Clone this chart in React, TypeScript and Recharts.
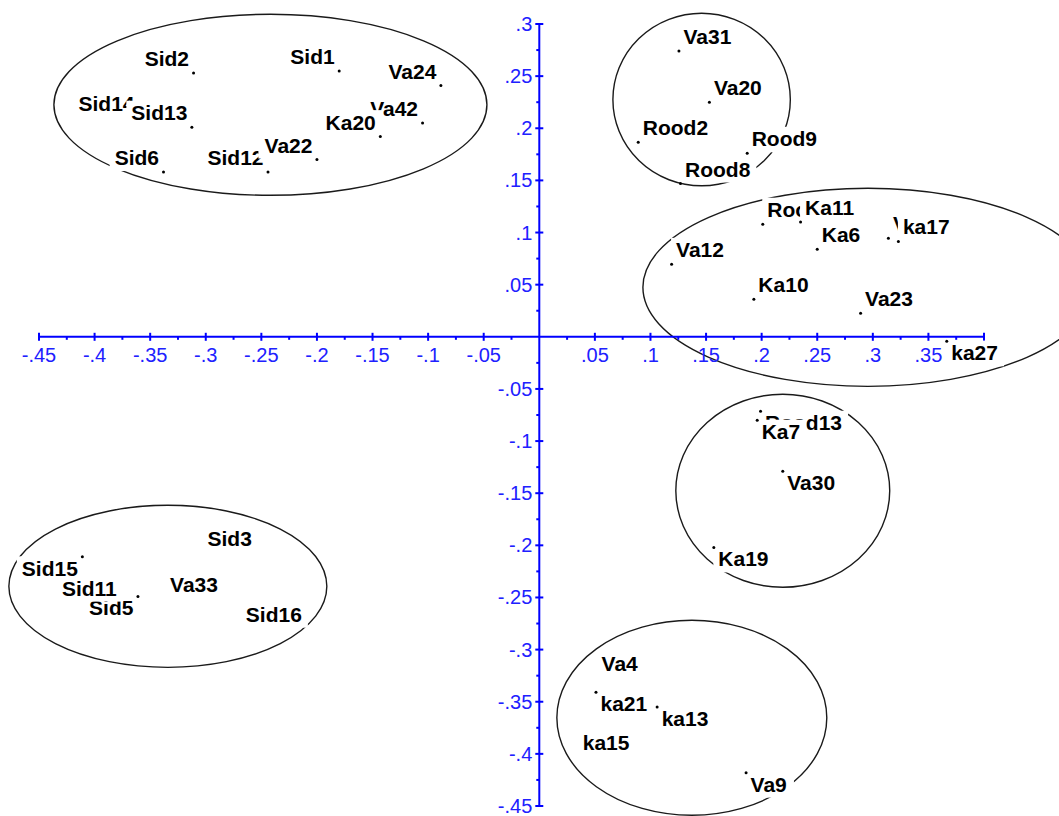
import { ScatterChart, Scatter, XAxis, YAxis, ReferenceLine, ReferenceArea } from "recharts";

// point labels, drawing order matters (later labels cover earlier ones)
const names = [
  "Sid14", "Sid13", "Sid2", "Sid1", "Va24", "Va42", "Ka20", "Sid12", "Va22", "Sid6",
  "Va31", "Va20", "Rood2", "Rood9", "Rood8", "Rood12", "Ka11", "Ka6", "Va18", "ka17", "Va12", "Ka10", "Va23",
  "ka27", "Rood13", "Ka7", "Va30", "Ka19",
  "Va4", "ka21", "ka13", "ka15", "Va9",
  "Sid15", "Sid5", "Sid11", "Sid3", "Va33", "Sid16",
];
const dim1 = [
  -0.36, -0.3125, -0.311, -0.18, -0.0885, -0.105, -0.143, -0.244, -0.2, -0.338,
  0.1256, 0.153, 0.089, 0.187, 0.127, 0.201, 0.235, 0.25, 0.314, 0.323, 0.119, 0.193, 0.289,
  0.3665, 0.199, 0.196, 0.219, 0.157,
  0.052, 0.051, 0.106, 0.035, 0.186,
  -0.411, -0.361, -0.376, -0.2545, -0.285, -0.2095,
];
const dim2 = [
  0.21, 0.201, 0.253, 0.255, 0.241, 0.205, 0.192, 0.158, 0.17, 0.158,
  0.274, 0.225, 0.1865, 0.176, 0.147, 0.108, 0.11, 0.084, 0.0945, 0.0915, 0.0695, 0.036, 0.0225,
  -0.0043, -0.0714, -0.08, -0.129, -0.202,
  -0.302, -0.341, -0.355, -0.378, -0.418,
  -0.211, -0.249, -0.23, -0.182, -0.227, -0.255,
];
// points whose marker does not show in the picture
const noMarker = ["Sid11", "Sid3", "Va33", "Sid16", "Va4", "ka15"];

const xTicks = [-0.45, -0.4, -0.35, -0.3, -0.25, -0.2, -0.15, -0.1, -0.05, 0.05, 0.1, 0.15, 0.2, 0.25, 0.3, 0.35, 0.4];
const xTickLabels = ["-.45", "-.4", "-.35", "-.3", "-.25", "-.2", "-.15", "-.1", "-.05", ".05", ".1", ".15", ".2", ".25", ".3", ".35", ""];
const xMinor = [-0.425, -0.375, -0.325, -0.275, -0.225, -0.175, -0.125, -0.075, -0.025, 0.025, 0.075, 0.125, 0.175, 0.225, 0.275, 0.325, 0.375];
const yTicks = [0.3, 0.25, 0.2, 0.15, 0.1, 0.05, -0.05, -0.1, -0.15, -0.2, -0.25, -0.3, -0.35, -0.4, -0.45];
const yTickLabels = [".3", ".25", ".2", ".15", ".1", ".05", "-.05", "-.1", "-.15", "-.2", "-.25", "-.3", "-.35", "-.4", "-.45"];
const yMinor = [0.275, 0.225, 0.175, 0.125, 0.075, 0.025, -0.025, -0.075, -0.125, -0.175, -0.225, -0.275, -0.325, -0.375, -0.425];

// cluster ellipses: [x1, x2, y1, y2]
const clusters: [number, number, number, number][] = [
  [-0.4366, -0.0471, 0.1357, 0.3093],
  [0.0662, 0.2258, 0.1448, 0.3103],
  [0.0932, 0.4979, -0.0475, 0.1424],
  [0.1228, 0.3152, -0.2402, -0.0551],
  [-0.4771, -0.1911, -0.317, -0.1616],
  [0.0158, 0.2586, -0.4589, -0.2719],
];

const points = names.map((name, i) => ({ name, x: dim1[i], y: dim2[i] }));
const xMajorData = xTicks.map((x, i) => ({ x, y: 0, label: xTickLabels[i] }));
const yMajorData = yTicks.map((y, i) => ({ x: 0, y, label: yTickLabels[i] }));
const xMinorData = xMinor.map((x) => ({ x, y: 0 }));
const yMinorData = yMinor.map((y) => ({ x: 0, y }));

const BLUE = "#0000ff";
const FONT = "'Liberation Sans', Arial, sans-serif";
const LABEL_SIZE = 21;

const BOLD_W: Record<string, number> = { S: 667, i: 278, d: 611, V: 667, a: 556, K: 722, k: 556, R: 722, o: 611 };
const textW = (s: string, size: number) =>
  s.split("").reduce((t, c) => t + (BOLD_W[c] ?? 556), 0) * size / 1000;

function PointMark(props: any) {
  const { cx, cy, payload } = props;
  const right = payload.x >= 0;
  const up = payload.y >= 0;
  const w = textW(payload.name, LABEL_SIZE);
  const tx = right ? cx + 4.5 : cx - 4.5;
  const base = up ? cy - 7 : cy + 19;
  const left = right ? tx : tx - w;
  return (
    <g>
      <rect x={left - 5} y={base - 19.5} width={w + 11} height={25.5} fill="#fff" />
      <text x={tx} y={base} textAnchor={right ? "start" : "end"} fontFamily={FONT}
        fontSize={LABEL_SIZE} fontWeight="bold" fill="#000">
        {payload.name}
      </text>
      {!noMarker.includes(payload.name) && <circle cx={cx} cy={cy} r={1.5} fill="#000" />}
    </g>
  );
}

function XMajorTick(props: any) {
  const { cx, cy, payload } = props;
  return (
    <g>
      <line x1={cx} y1={cy - 4} x2={cx} y2={cy + 4} stroke={BLUE} strokeWidth={2} />
      {payload.label && (
        <text x={cx} y={cy + 25} textAnchor="middle" fontFamily={FONT} fontSize={20} fill="#2020ff">
          {payload.label}
        </text>
      )}
    </g>
  );
}

function YMajorTick(props: any) {
  const { cx, cy, payload } = props;
  return (
    <g>
      <line x1={cx - 4} y1={cy} x2={cx + 4} y2={cy} stroke={BLUE} strokeWidth={2} />
      <text x={cx - 7} y={cy + 7} textAnchor="end" fontFamily={FONT} fontSize={20} fill="#2020ff">
        {payload.label}
      </text>
    </g>
  );
}

const XMinorTick = (p: any) => <line x1={p.cx} y1={p.cy} x2={p.cx} y2={p.cy + 3} stroke={BLUE} strokeWidth={2} />;
const YMinorTick = (p: any) => <line x1={p.cx - 3} y1={p.cy} x2={p.cx} y2={p.cy} stroke={BLUE} strokeWidth={2} />;

const EllipseShape = (p: any) => (
  <ellipse cx={p.x + p.width / 2} cy={p.y + p.height / 2} rx={p.width / 2} ry={p.height / 2}
    fill="none" stroke="#1a1a1a" strokeWidth={1.4} />
);

export default function App() {
  return (
    <div style={{ position: "absolute", left: 0, top: 0, background: "#fff" }}>
      <ScatterChart width={1059} height={816} margin={{ top: 24, right: 75, bottom: 10, left: 39 }}>
        <XAxis type="number" dataKey="x" domain={[-0.45, 0.4]} hide />
        <YAxis type="number" dataKey="y" domain={[-0.45, 0.3]} hide />
        {clusters.map(([x1, x2, y1, y2], i) => (
          <ReferenceArea key={i} x1={x1} x2={x2} y1={y1} y2={y2} ifOverflow="visible" shape={EllipseShape} />
        ))}
        <ReferenceLine x={0} stroke={BLUE} strokeWidth={2} />
        <ReferenceLine y={0} stroke={BLUE} strokeWidth={2} />
        <Scatter data={xMinorData} shape={XMinorTick} isAnimationActive={false} />
        <Scatter data={yMinorData} shape={YMinorTick} isAnimationActive={false} />
        <Scatter data={xMajorData} shape={XMajorTick} isAnimationActive={false} />
        <Scatter data={yMajorData} shape={YMajorTick} isAnimationActive={false} />
        <Scatter data={points} shape={PointMark} isAnimationActive={false} />
      </ScatterChart>
    </div>
  );
}
